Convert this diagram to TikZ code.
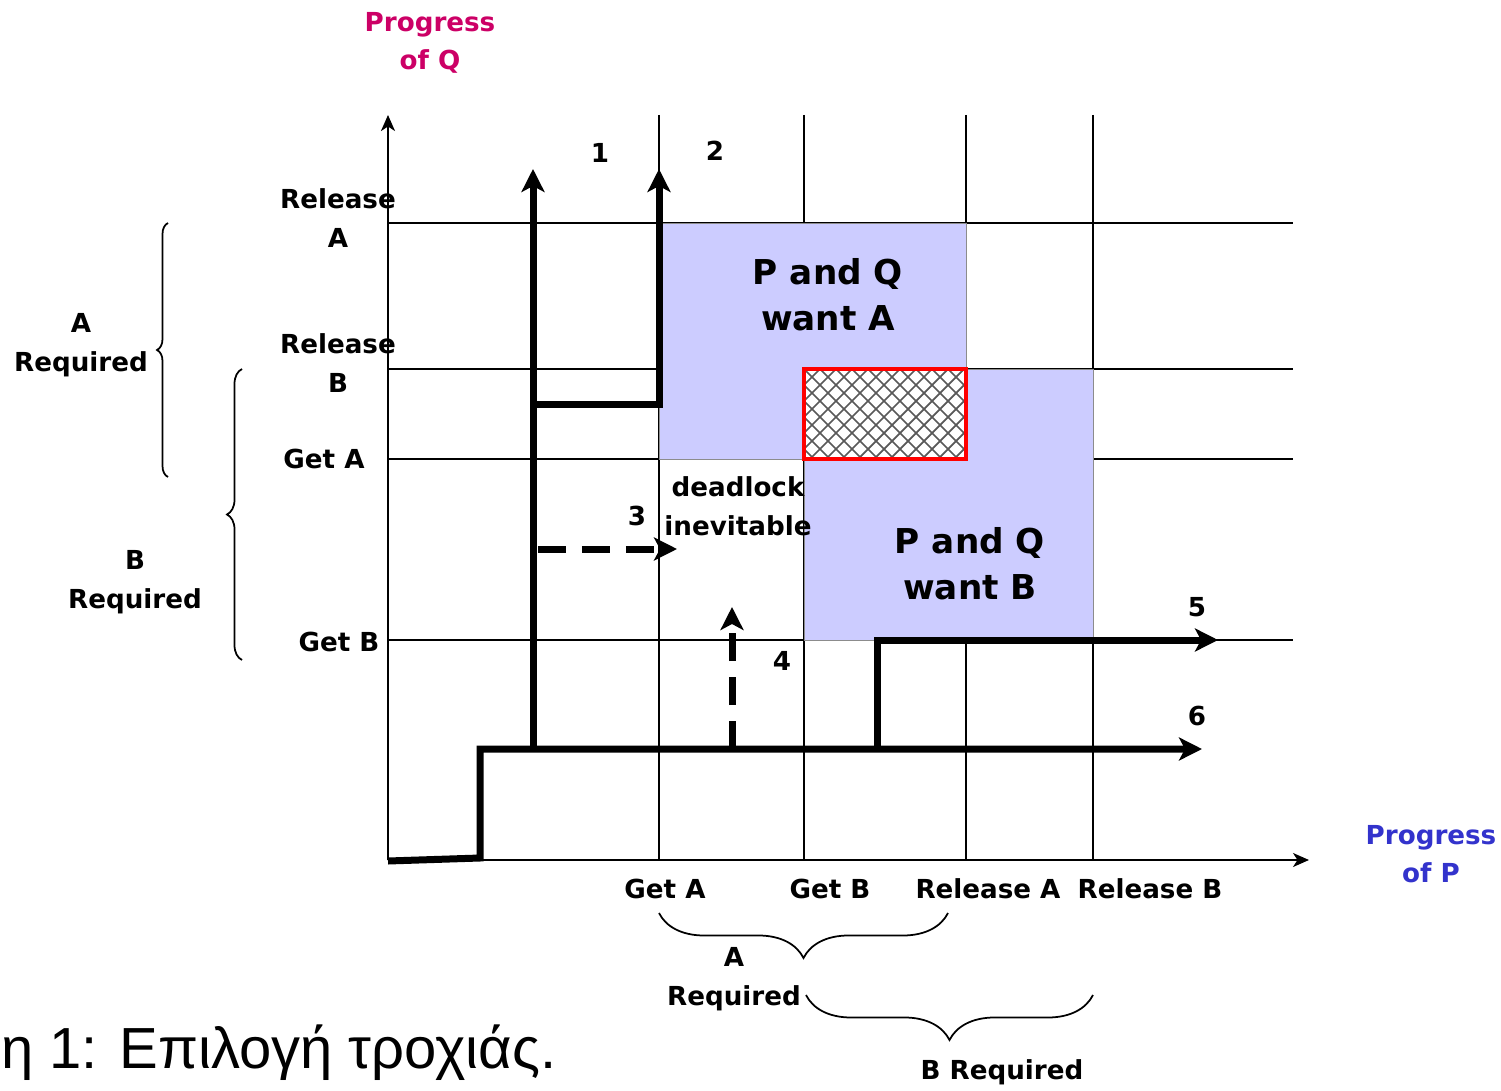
\documentclass[tikz,border=0pt]{standalone}
\usepackage{fontspec}
\setmainfont{DejaVu Sans}
\newfontfamily\capfont{Liberation Sans}
\usetikzlibrary{arrows.meta,decorations.pathreplacing}
\definecolor{lav}{RGB}{204,204,255}
\definecolor{qcol}{RGB}{204,0,102}
\definecolor{pcol}{RGB}{51,51,204}
\begin{document}
\begin{tikzpicture}[x=0.02cm,y=-0.02cm,
  gridline/.style={line width=0.04cm},
  axisline/.style={line width=0.04cm,-{Stealth[length=0.32cm,width=0.28cm,inset=0.09cm]}},
  traj/.style={line width=0.14cm,-{Stealth[length=0.46cm,width=0.46cm,inset=0.12cm]}},
  dashtraj/.style={traj,dash pattern=on 0.56cm off 0.32cm},
  lbl/.style={font=\bfseries\fontsize{14.9pt}{22pt}\selectfont,align=center,inner sep=0},
  biglbl/.style={font=\bfseries\fontsize{19.5pt}{26pt}\selectfont,align=center,inner sep=0},
  brc/.style={decorate,line width=0.035cm},
  region/.style={fill=lav,draw=black!45,line width=0.01cm}
]
\useasboundingbox (0,0) rectangle (1501,1091);

% grid
\draw[gridline] (659,115) -- (659,860);
\draw[gridline] (804,115) -- (804,860);
\draw[gridline] (966,115) -- (966,860);
\draw[gridline] (1093,115) -- (1093,860);
\draw[gridline] (388,223) -- (1293,223);
\draw[gridline] (388,369) -- (1293,369);
\draw[gridline] (388,459) -- (1293,459);
\draw[gridline] (388,640) -- (1293,640);

% regions
\path[region] (659,223) rectangle (966,459);
\path[region] (804,369) rectangle (1093,640);
\begin{scope}
  \clip (804,369) rectangle (966,459);
  \fill[white] (804,369) rectangle (966,459);
  \foreach \i in {-112,-96,...,272}{
    \draw[black!65,line width=0.035cm] (804+\i,369) -- ++(100,100);
    \draw[black!65,line width=0.035cm] (804+\i,369) -- ++(-100,100);
  }
\end{scope}
\draw[red,line width=0.08cm] (804,369) rectangle (966,459);

% axes
\coordinate (O) at (388,860);
\coordinate (ytip) at (388,115);
\coordinate (xtip) at (1309,860);
\draw[axisline] (O) -- (ytip);
\draw[axisline] (O) -- (xtip);

% trajectories
\coordinate (s0) at (388,861);
\coordinate (s1) at (480,858);
\coordinate (s2) at (480,749);
\coordinate (t6) at (1202,749);
\coordinate (b1) at (533,749);
\coordinate (t1) at (533,169);
\coordinate (b2) at (533,404);
\coordinate (c2) at (659,404);
\coordinate (t2) at (659,169);
\coordinate (b3) at (538,549);
\coordinate (t3) at (677,549);
\coordinate (b4) at (732,749);
\coordinate (t4) at (732,607);
\coordinate (b5) at (877,749);
\coordinate (c5) at (877,640);
\coordinate (t5) at (1218,640);

\draw[traj] (s0) -- (s1) -- (s2) -- (t6);
\draw[traj] (b1) -- (t1);
\draw[traj] (b2) -- (c2) -- (t2);
\draw[dashtraj] (b3) -- (t3);
\draw[dashtraj] (b4) -- (t4);
\draw[traj] (b5) -- (c5) -- (t5);

% path numbers
\node[lbl] (n1) at (600,153) {1};
\node[lbl] (n2) at (715,151) {2};
\node[lbl] (n3) at (637,516) {3};
\node[lbl] (n4) at (782,661) {4};
\node[lbl] (n5) at (1197,607) {5};
\node[lbl] (n6) at (1197,716) {6};

% axis titles
\node[lbl,text=qcol] (pq) at (430,43) {Progress\\of Q};
\node[lbl,text=pcol] (pp) at (1431,854) {Progress\\of P};

% y labels
\node[lbl] (relA) at (338,218) {Release\\A};
\node[lbl] (relB) at (338,363) {Release\\B};
\node[lbl] (getA) at (324,459) {Get A};
\node[lbl] (getB) at (339,642) {Get B};

% x labels
\node[lbl] (xgetA) at (665,889) {Get A};
\node[lbl] (xgetB) at (830,889) {Get B};
\node[lbl] (xrelA) at (988,889) {Release A};
\node[lbl] (xrelB) at (1150,889) {Release B};

% region labels
\node[biglbl] (wantA) at (828,295) {P and Q\\want A};
\node[biglbl] (wantB) at (970,564) {P and Q\\want B};
\node[lbl] (dead) at (738,506) {deadlock\\inevitable};

% braces
\draw[brc,decoration={brace,amplitude=0.22cm}] (168,477) -- (168,223);
\draw[brc,decoration={brace,amplitude=0.3cm}] (242,660) -- (242,369);
\draw[brc,decoration={brace,amplitude=0.9cm}] (948,913) -- (659,913);
\draw[brc,decoration={brace,amplitude=0.9cm}] (1093,995) -- (806,995);

\node[lbl] (reqA) at (81,345) {A\\Required};
\node[lbl] (reqB) at (135,582) {B\\Required};
\node[lbl] (xreqA) at (734,979) {A\\Required};
\node[lbl] (xreqB) at (1002,1072) {B Required};

% caption
\node[anchor=base west,inner sep=0,font=\capfont\fontsize{33pt}{38pt}\selectfont] (cap) at (1,1068) {η 1: Επιλογή τροχιάς.};
\end{tikzpicture}
\end{document}
